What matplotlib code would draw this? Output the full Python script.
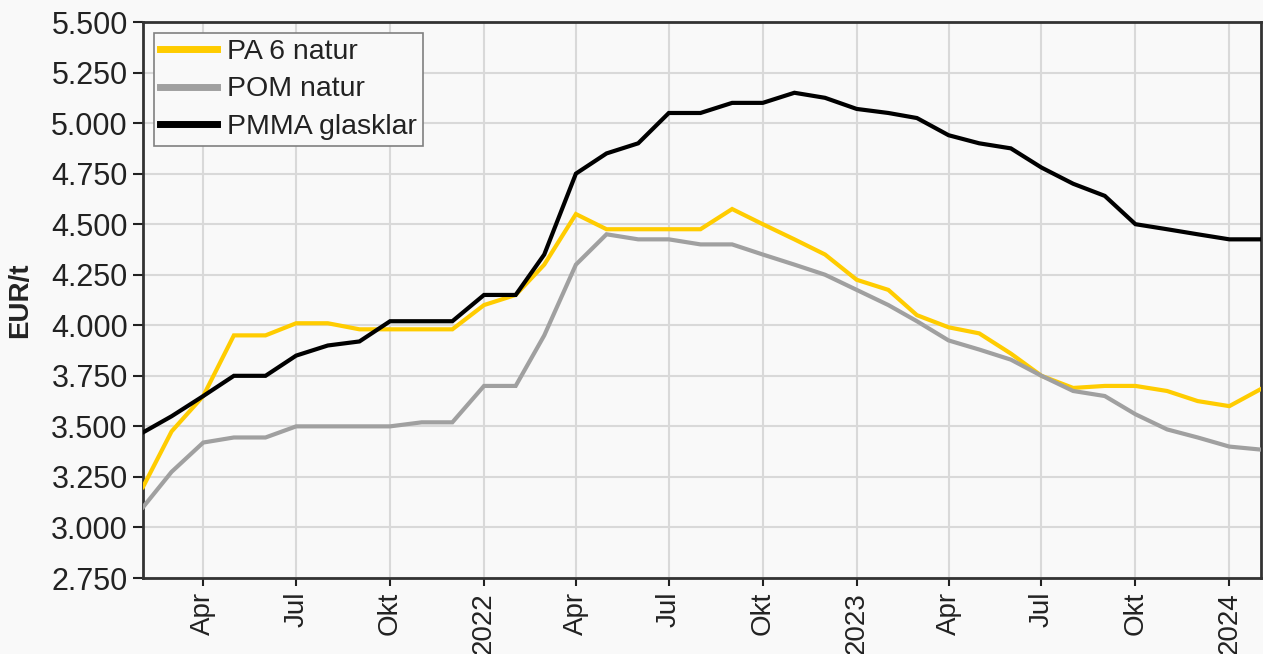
import matplotlib
matplotlib.use("Agg")
import matplotlib.pyplot as plt
import numpy as np
import pandas as pd

# monthly quotes, Feb 2021 .. Feb 2024 (EUR/t)
months = pd.date_range("2021-02-01", "2024-02-01", freq="MS")

pa6_natur = [3200, 3475, 3650, 3950, 3950, 4010, 4010, 3980, 3980, 3980, 3980, 4100, 4150,
             4300, 4550, 4475, 4475, 4475, 4475, 4575, 4500, 4425, 4350, 4225, 4175,
             4050, 3990, 3960, 3860, 3750, 3690, 3700, 3700, 3675, 3625, 3600, 3685]
pom_natur = [3100, 3275, 3420, 3445, 3445, 3500, 3500, 3500, 3500, 3520, 3520, 3700, 3700,
             3950, 4300, 4450, 4425, 4425, 4400, 4400, 4350, 4300, 4250, 4175, 4100,
             4020, 3925, 3880, 3830, 3750, 3675, 3650, 3560, 3485, 3445, 3400, 3385]
pmma_glasklar = [3470, 3550, 3650, 3750, 3750, 3850, 3900, 3920, 4020, 4020, 4020, 4150, 4150,
                 4350, 4750, 4850, 4900, 5050, 5050, 5100, 5100, 5150, 5125, 5070, 5050,
                 5025, 4940, 4900, 4875, 4780, 4700, 4640, 4500, 4475, 4450, 4425, 4425]

series_names = ["PA 6 natur", "POM natur", "PMMA glasklar"]
series_colors = ["#ffcc00", "#a0a0a0", "#000000"]

x_tick_dates = ["2021-04-01", "2021-07-01", "2021-10-01", "2022-01-01",
                "2022-04-01", "2022-07-01", "2022-10-01", "2023-01-01",
                "2023-04-01", "2023-07-01", "2023-10-01", "2024-01-01"]
x_tick_labels = ["Apr", "Jul", "Okt", "2022", "Apr", "Jul", "Okt", "2023",
                 "Apr", "Jul", "Okt", "2024"]
y_ticks = [2750, 3000, 3250, 3500, 3750, 4000, 4250, 4500, 4750, 5000, 5250, 5500]
y_tick_labels = ["2.750", "3.000", "3.250", "3.500", "3.750", "4.000", "4.250",
                 "4.500", "4.750", "5.000", "5.250", "5.500"]

bg = "#f9f9f9"
txt = "#222222"
plt.rcParams['font.family'] = ['Liberation Sans', 'DejaVu Sans']

fig = plt.figure(figsize=(12.63, 6.54), dpi=100, facecolor=bg)
ax = fig.add_axes([143/1263, 1 - 578/654, (1261-143)/1263, (578-22)/654])
ax.set_facecolor(bg)

for vals, name, col in zip([pa6_natur, pom_natur, pmma_glasklar], series_names, series_colors):
	ax.plot(months, vals, color=col, lw=3, label=name, solid_joinstyle='miter', zorder=3)

ax.set_xlim(pd.Timestamp("2021-02-01"), pd.Timestamp("2024-02-01"))
ax.set_ylim(2750, 5500)

ax.set_xticks(pd.to_datetime(x_tick_dates))
ax.set_xticklabels(x_tick_labels, rotation=90, fontsize=20, color=txt)
ax.set_yticks(y_ticks)
ax.set_yticklabels(y_tick_labels, fontsize=22, color=txt)

ax.tick_params(axis='y', length=7, width=1.5, color="#222222", pad=4)
ax.tick_params(axis='x', length=6, width=1.5, color="#222222", pad=4)

ax.grid(True, color="#d9d9d9", lw=1.5, zorder=0)
ax.set_axisbelow(True)
for s in ax.spines.values():
	s.set_color("#333333")
	s.set_linewidth(2)

ax.set_ylabel("EUR/t", fontsize=20, fontweight='bold', color=txt, labelpad=13)

leg = ax.legend(loc='upper left', fontsize=20.5, frameon=True, fancybox=False,
                borderaxespad=0.38, handlelength=2.0, handletextpad=0.34,
                labelspacing=0.4, borderpad=0.22)
leg.get_frame().set_edgecolor("#808080")
leg.get_frame().set_facecolor(bg)
leg.get_frame().set_linewidth(1.2)
leg.get_frame().set_alpha(1)
for line in leg.get_lines():
	line.set_linewidth(5)
for t in leg.get_texts():
	t.set_color(txt)

fig.savefig("out.png", dpi=100, facecolor=bg)
